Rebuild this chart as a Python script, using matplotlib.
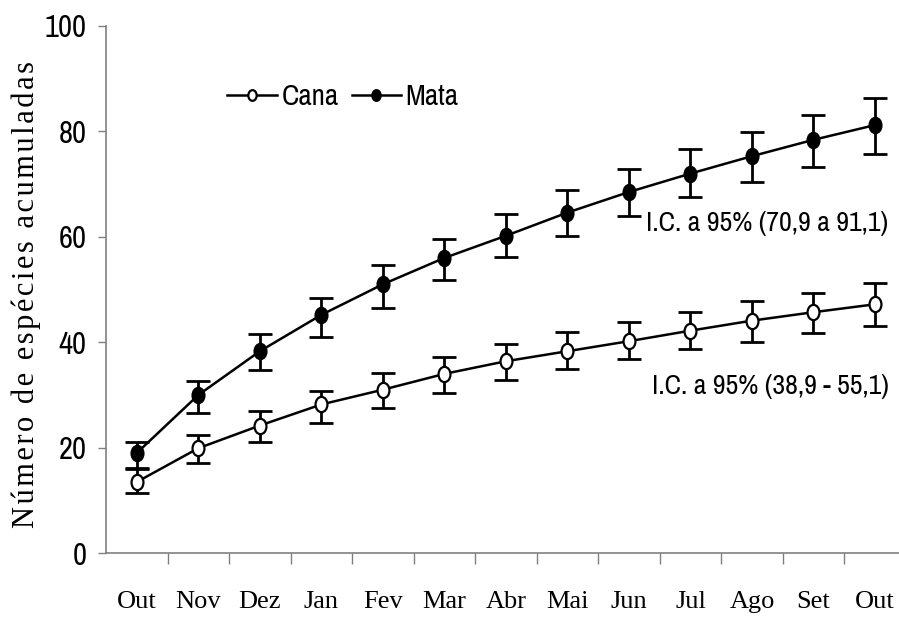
"""Cumulative species curves (Cana vs Mata) with 95% confidence bars."""

import matplotlib
matplotlib.use("Agg")
import matplotlib.pyplot as plt
import numpy as np
from matplotlib.path import Path
from matplotlib.transforms import Affine2D

months = ["Out", "Nov", "Dez", "Jan", "Fev", "Mar", "Abr", "Mai", "Jun",
          "Jul", "Ago", "Set", "Out"]

cana_mean = [13.5, 19.9, 24.2, 28.2, 31.0, 34.0, 36.4, 38.3, 40.2, 42.2, 44.1, 45.7, 47.2]
cana_low = [11.4, 17.1, 21.1, 24.6, 27.5, 30.4, 32.8, 34.9, 36.8, 38.7, 40.0, 41.7, 43.1]
cana_high = [16.2, 22.4, 27.0, 30.8, 34.2, 37.2, 39.6, 42.0, 43.8, 45.7, 47.8, 49.3, 51.2]

mata_mean = [19.0, 30.0, 38.3, 45.2, 51.0, 56.0, 60.2, 64.6, 68.5, 72.0, 75.3, 78.4, 81.2]
mata_low = [16.0, 26.5, 34.7, 41.0, 46.5, 51.8, 56.2, 60.2, 63.9, 67.6, 70.4, 73.2, 75.7]
mata_high = [21.1, 32.7, 41.6, 48.4, 54.6, 59.5, 64.3, 68.8, 72.9, 76.7, 79.9, 83.1, 86.3]

ic_mata = "I.C. a 95% (70,9 a 91,1)"
ic_cana = "I.C. a 95% (38,9 - 55,1)"

narrow = ["Archivo Narrow", "Roboto Condensed", "Liberation Sans", "DejaVu Sans"]
serif = ["Liberation Serif", "DejaVu Serif"]

# slightly tall ellipse, like the original markers
oval = Path.unit_circle().transformed(Affine2D().scale(0.78, 1.0))

fig = plt.figure(figsize=(8.99, 6.18), dpi=100)
ax = fig.add_axes([0.118, 0.105, 0.882, 0.853])

x = np.arange(len(months))


def draw(mean, low, high, face, label):
    mean = np.asarray(mean)
    err = [mean - np.asarray(low), np.asarray(high) - mean]
    ax.errorbar(x, mean, yerr=err, fmt="none", ecolor="black",
                elinewidth=2.0, capsize=8.5, capthick=2.0, zorder=2)
    ax.plot(x, mean, color="black", linewidth=1.8, marker=oval, markersize=11,
            markerfacecolor=face, markeredgecolor="black", markeredgewidth=1.6,
            label=label, zorder=3)


draw(cana_mean, cana_low, cana_high, "white", "Cana")
draw(mata_mean, mata_low, mata_high, "black", "Mata")

ax.set_ylim(0, 100)
ax.set_xlim(-0.5, 12.39)
ax.set_yticks(np.arange(0, 101, 20))
ax.set_xticks(x)
ax.set_xticks(np.arange(0.5, 12.5, 1), minor=True)
ax.set_xticklabels(months, family=serif, fontsize=19)
for lab in ax.get_yticklabels():
    lab.set_family(narrow)
    lab.set_fontsize(22)

ax.tick_params(axis="x", which="major", length=0, pad=27)
ax.tick_params(axis="x", which="minor", length=8, width=1, color="#808080",
               direction="out")
ax.tick_params(axis="y", length=6, width=1, color="#808080", pad=8)

for side in ("top", "right"):
    ax.spines[side].set_visible(False)
for side in ("left", "bottom"):
    ax.spines[side].set_color("#808080")
    ax.spines[side].set_linewidth(1.2)

ylabel = "\u200a".join("Número de espécies acumuladas")
ax.set_ylabel(ylabel, family=serif, fontsize=22)
ax.yaxis.set_label_coords(-0.082, 0.49)

ax.text(12.22, 62.6, ic_mata, ha="right", va="center", family=narrow, fontsize=20)
ax.text(12.22, 31.7, ic_cana, ha="right", va="center", family=narrow, fontsize=20)

leg = ax.legend(loc="center left", bbox_to_anchor=(0.153, 0.866), ncol=2,
                frameon=False, numpoints=1, handlelength=1.7, markerscale=0.7,
                handletextpad=0.15, columnspacing=0.45, borderaxespad=0,
                borderpad=0, prop={"family": narrow, "size": 21})

fig.savefig("out.png", dpi=100)
